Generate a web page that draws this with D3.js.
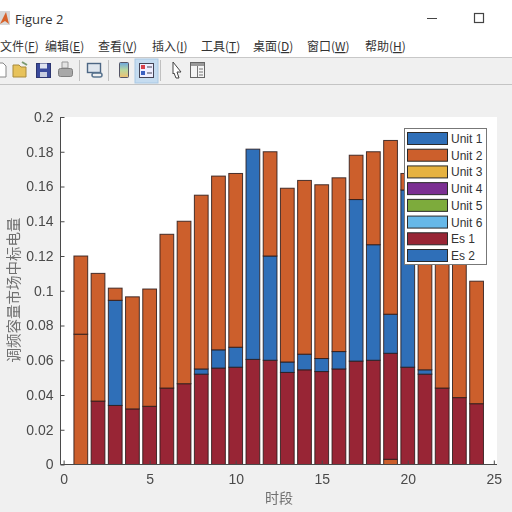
<!DOCTYPE html>
<html><head><meta charset="utf-8">
<style>html,body{margin:0;padding:0;background:#f0f0f0;overflow:hidden}svg{display:block;filter:blur(0.5px)}</style>
<script src="https://cdnjs.cloudflare.com/ajax/libs/d3/7.8.5/d3.min.js"></script>
</head><body><svg id="c" width="512" height="512"></svg>
<script>
const hours = d3.range(1, 25);
const unit1 = new Array(24).fill(0);
const unit2 = [.075,0,0,0,0,0,0,0,0,0,0,0,0,0,0,0,0,0,.003,0,0,0,0,0];
const unit3 = new Array(24).fill(0);
const unit4 = new Array(24).fill(0);
const unit5 = new Array(24).fill(0);
const unit6 = new Array(24).fill(0);
const es1 = [0,.0365,.034,.032,.0335,.044,.0465,.052,.0555,.056,.0605,.06,.053,.0545,.0535,.055,.0595,.06,.061,.056,.052,.044,.0385,.035];
const es2 = [0,0,.0605,0,0,0,0,.003,.0105,.0115,.121,.06,.006,.009,.0075,.01,.093,.0665,.0225,.102,.0025,0,0,0];
const extra = [.045,.0735,.007,.0645,.0675,.0885,.0935,.1,.1,.1,0,.06,.1,.1,.1,.1,.0255,.0535,.1,.0095,.1,.1,.1,.0705];
const seriesNames = ["Unit 1","Unit 2","Unit 3","Unit 4","Unit 5","Unit 6","Es 1","Es 2"];
const seriesColors = ["#2f6fb8","#cc5f2c","#e6b240","#7b2f92","#7dab3c","#66b8e8","#982535","#2f6fb8"];
const extraColor = "#cc5f2c";
const yTicks = [0,.02,.04,.06,.08,.1,.12,.14,.16,.18,.2];
const xTicks = [0,5,10,15,20,25];
const menus = [["文件(","F",")",0],["编辑(","E",")",45],["查看(","V",")",98],["插入(","I",")",152],["工具(","T",")",201],["桌面(","D",")",253],["窗口(","W",")",307],["帮助(","H",")",365]];

const svg = d3.select("#c");
const cjk = "'Noto Sans CJK SC','Noto Sans',sans-serif";
const latin = "'Liberation Sans',Arial,sans-serif";

// window chrome
svg.append("rect").attr("width",512).attr("height",57).attr("fill","#fff");
svg.append("rect").attr("y",57).attr("width",512).attr("height",27).attr("fill","#f0f0f0");
svg.append("line").attr("x1",0).attr("x2",512).attr("y1",57.5).attr("y2",57.5).attr("stroke","#c8c8c8");
svg.append("line").attr("x1",0).attr("x2",512).attr("y1",84.5).attr("y2",84.5).attr("stroke","#c4c4c4");
svg.append("text").text("Figure 2").attr("x",15).attr("y",24).attr("font-family","'Open Sans',sans-serif").attr("font-size",13).attr("fill","#333");
svg.append("rect").attr("x",0).attr("y",11).attr("width",10).attr("height",14).attr("fill","#d8d8d8");
svg.append("path").attr("d","M0 24 L4 16 L6 12 L9 24 L5 21 Z").attr("fill","#d8622a");
svg.append("line").attr("x1",427).attr("x2",437).attr("y1",18.5).attr("y2",18.5).attr("stroke","#444");
svg.append("rect").attr("x",474.5).attr("y",13.5).attr("width",9).attr("height",9).attr("fill","none").attr("stroke","#444").attr("stroke-width",1.2);
const menuText = svg.selectAll(".menu").data(menus).join("text").attr("class","menu").attr("x",d=>d[3]).attr("y",51)
  .attr("font-family",cjk).attr("font-size",12).attr("fill","#333");
menuText.append("tspan").text(d=>d[0]);
menuText.append("tspan").text(d=>d[1]).attr("text-decoration","underline");
menuText.append("tspan").text(d=>d[2]);

// toolbar icons
const tb = svg.append("g");
tb.append("path").attr("d","M-2 63 H3 L6 66 V77 H-2 Z").attr("fill","#fff").attr("stroke","#888");
tb.append("path").attr("d","M13 77 V65 H19 L21 67 H26 V77 Z").attr("fill","#e7c25a").attr("stroke","#a88a3c");
tb.append("path").attr("d","M22 62 L27 65").attr("stroke","#7a9a70").attr("stroke-width",2);
tb.append("rect").attr("x",36.5).attr("y",63.5).attr("width",14).attr("height",14).attr("fill","#3a4a9c").attr("stroke","#2c3570");
tb.append("rect").attr("x",40).attr("y",63.5).attr("width",7).attr("height",5).attr("fill","#dfe3f0");
tb.append("rect").attr("x",40).attr("y",72).attr("width",7).attr("height",5).attr("fill","#c8cde0");
tb.append("path").attr("d","M62 62 H68 V68 H62 Z").attr("fill","#e4e4e4").attr("stroke","#999");
tb.append("rect").attr("x",58.5).attr("y",68.5).attr("width",14).attr("height",8).attr("rx",2).attr("fill","#a8a8a8").attr("stroke","#808080");
tb.append("rect").attr("x",87.5).attr("y",63.5).attr("width",13).attr("height",9).attr("fill","#dfe6ee").attr("stroke","#4c6684").attr("stroke-width",1.4);
tb.append("rect").attr("x",92).attr("y",73).attr("width",10).attr("height",4).attr("rx",2).attr("fill","none").attr("stroke","#5a7590").attr("stroke-width",1.5);
const grad = svg.append("defs").append("linearGradient").attr("id","cb").attr("x1",0).attr("x2",0).attr("y1",0).attr("y2",1);
[["0%","#6aa6e0"],["50%","#b8d8a0"],["100%","#f0c070"]].forEach(s=>grad.append("stop").attr("offset",s[0]).attr("stop-color",s[1]));
tb.append("rect").attr("x",119.5).attr("y",62.5).attr("width",9).attr("height",15).attr("rx",1).attr("fill","url(#cb)").attr("stroke","#556");
tb.append("rect").attr("x",135).attr("y",59).attr("width",23).attr("height",24).attr("fill","#c5dcf0").attr("stroke","#a8c8e4");
tb.append("rect").attr("x",139.5).attr("y",63.5).attr("width",14).attr("height",14).attr("fill","#eef").attr("stroke","#445");
tb.append("rect").attr("x",141).attr("y",65).attr("width",4).attr("height",4).attr("fill","#d8404a");
tb.append("rect").attr("x",141).attr("y",71).attr("width",4).attr("height",4).attr("fill","#3a60c0");
tb.append("path").attr("d","M147 67 H152 M147 73 H152").attr("stroke","#445");
tb.append("path").attr("d","M173 62 L181 72 L177 72 L179 78 L176 78 L174 73 L173 74 Z").attr("fill","#fff").attr("stroke","#444");
tb.append("rect").attr("x",190.5).attr("y",62.5).attr("width",14).attr("height",15).attr("fill","#f5f5f5").attr("stroke","#666");
tb.append("rect").attr("x",191).attr("y",63).attr("width",13).attr("height",3).attr("fill","#999");
tb.append("path").attr("d","M197.5 66 V77 M199 69 H203 M199 72 H203 M199 75 H203").attr("stroke","#777");
[79.5,108.5,160.5].forEach(px=>tb.append("line").attr("x1",px).attr("x2",px).attr("y1",60).attr("y2",81).attr("stroke","#c0c0c0"));

// plot
const plotL=60.5, plotR=497, plotT=117, plotB=464.5;
svg.append("rect").attr("x",plotL).attr("y",plotT).attr("width",plotR-plotL).attr("height",plotB-plotT).attr("fill","#fff");
const xScale = d3.scaleLinear().domain([0,25]).range([63.6,493.8]);
const yScale = d3.scaleLinear().domain([0,.2]).range([plotB,plotT]);
const keys = ["u1","u2","u3","u4","u5","u6","e1","e2","upper"];
const cols = [unit1,unit2,unit3,unit4,unit5,unit6,es1,es2,extra];
const colors = seriesColors.concat([extraColor]);
const rows = hours.map((h,i)=>{const r={h};keys.forEach((k,j)=>r[k]=cols[j][i]);return r;});
const stacked = d3.stack().keys(keys)(rows);
const bw = (xScale(1)-xScale(0))*0.8;
const barsG = svg.append("g");
stacked.forEach((s,si)=>{
  barsG.selectAll(null).data(s.filter(d=>d[1]>d[0])).join("rect")
   .attr("x",d=>xScale(d.data.h)-bw/2).attr("width",bw)
   .attr("y",d=>yScale(d[1])).attr("height",d=>yScale(d[0])-yScale(d[1]))
   .attr("fill",colors[si]).attr("stroke","#2a1a1a").attr("stroke-opacity",.85).attr("stroke-width",1);
});

// axes
const axisCol="#4a4a4a";
const ax = svg.append("g").attr("transform",`translate(0,${plotB})`).call(d3.axisBottom(xScale).tickValues(xTicks).tickSize(-4).tickPadding(10).tickFormat(d3.format("d")));
const ay = svg.append("g").attr("transform",`translate(${plotL},0)`).call(d3.axisLeft(yScale).tickValues(yTicks).tickSize(-4).tickPadding(7).tickFormat(d=>d===0?"0":String(+d.toFixed(2))));
[ax,ay].forEach(a=>{a.select(".domain").remove();a.selectAll("line").attr("stroke",axisCol);a.selectAll("text").attr("font-family",latin).attr("font-size",14).attr("fill","#4a4a4a");});
svg.append("line").attr("x1",plotL).attr("x2",plotR).attr("y1",plotB).attr("y2",plotB).attr("stroke",axisCol);
svg.append("line").attr("x1",plotL).attr("x2",plotL).attr("y1",plotT).attr("y2",plotB).attr("stroke",axisCol);

svg.append("text").text("时段").attr("x",279).attr("y",503).attr("text-anchor","middle").attr("font-family",cjk).attr("font-size",14).attr("fill","#707070");
svg.append("text").text("调频容量市场中标电量").attr("transform","translate(19,290) rotate(-90)").attr("text-anchor","middle").attr("font-family",cjk).attr("font-size",14.5).attr("fill","#707070");

// legend
const lg = svg.append("g");
lg.append("rect").attr("x",404.5).attr("y",128.5).attr("width",82).attr("height",136).attr("fill","#fff").attr("stroke","#777").attr("stroke-width",1);
const ly = d3.scalePoint().domain(seriesNames).range([138.5,255.5]);
lg.selectAll(".sw").data(seriesNames).join("rect").attr("class","sw").attr("x",407.5).attr("width",40).attr("height",12)
  .attr("y",d=>ly(d)-6).attr("fill",(d,i)=>seriesColors[i]).attr("stroke","#2a2a2a");
lg.selectAll(".lb").data(seriesNames).join("text").attr("class","lb").text(d=>d).attr("x",451).attr("y",d=>ly(d)+4.5)
  .attr("font-family",latin).attr("font-size",12).attr("fill","#333");
</script></body></html>
